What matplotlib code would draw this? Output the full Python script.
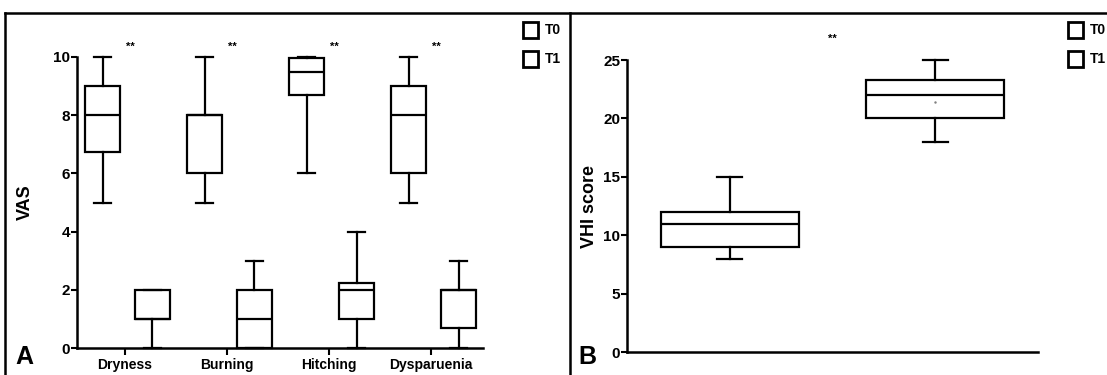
import matplotlib.pyplot as plt
from matplotlib.patches import Rectangle
from matplotlib.lines import Line2D

plt.rcParams['font.family'] = ['Liberation Sans', 'DejaVu Sans']
plt.rcParams['font.weight'] = 'bold'

W, H = 1107, 375

# panel A: VAS per symptom, T0 and T1
symptoms = ["Dryness", "Burning", "Hitching", "Dysparuenia"]
vas_t0_low = [5, 5, 6, 5]
vas_t0_q1 = [6.75, 6, 8.7, 6]
vas_t0_med = [8, 8, 9.5, 8]
vas_t0_q3 = [9, 8, 9.95, 9]
vas_t0_high = [10, 10, 10, 10]
vas_t1_low = [0, 0, 0, 0]
vas_t1_q1 = [1, 0, 1, 0.7]
vas_t1_med = [1, 1, 2, 2]
vas_t1_q3 = [2, 2, 2.25, 2]
vas_t1_high = [2, 3, 4, 3]

# panel B: VHI score
vhi_groups = ["T0", "T1"]
vhi_low = [8, 18]
vhi_q1 = [9, 20]
vhi_med = [11, 22]
vhi_q3 = [12, 23.3]
vhi_high = [15, 25]
vhi_mean = [None, 21.4]


def px_axes(fig, left, top, right, bottom):
    return fig.add_axes([left / W, 1 - bottom / H, (right - left) / W, (bottom - top) / H])


def stats(lo, q1, med, q3, hi):
    return [dict(whislo=a, q1=b, med=c, q3=d, whishi=e, fliers=[])
            for a, b, c, d, e in zip(lo, q1, med, q3, hi)]


def style_axes(ax):
    for s in ["top", "right"]:
        ax.spines[s].set_visible(False)
    for s in ["left", "bottom"]:
        ax.spines[s].set_linewidth(1.8)
    ax.tick_params(axis="y", direction="out", length=4, width=1.5, pad=1, labelsize=11)
    ax.tick_params(axis="x", direction="out", length=5, width=1.5, pad=2, labelsize=10)


lw = 1.6
box_kw = dict(showfliers=False, patch_artist=True,
              boxprops=dict(facecolor="white", edgecolor="black", linewidth=lw),
              medianprops=dict(color="black", linewidth=lw),
              whiskerprops=dict(color="black", linewidth=lw),
              capprops=dict(color="black", linewidth=lw))

fig = plt.figure(figsize=(W / 100, H / 100), dpi=100)

# ---- panel A
axA = px_axes(fig, 77, 57, 483, 348)
pos = list(range(len(symptoms)))
axA.bxp(stats(vas_t0_low, vas_t0_q1, vas_t0_med, vas_t0_q3, vas_t0_high),
        positions=[p - 0.22 for p in pos], widths=0.35, capwidths=0.17, **box_kw)
axA.bxp(stats(vas_t1_low, vas_t1_q1, vas_t1_med, vas_t1_q3, vas_t1_high),
        positions=[p + 0.27 for p in pos], widths=0.35, capwidths=0.17, **box_kw)
for art in axA.get_children():
    art.set_clip_on(False)
axA.set_xlim(-0.47, 3.51)
axA.set_ylim(0, 10)
axA.set_yticks([0, 2, 4, 6, 8, 10])
axA.set_xticks(pos)
axA.set_xticklabels(symptoms)
axA.set_ylabel("VAS", fontsize=13, fontweight="bold", labelpad=14)
for p in pos:
    axA.text(p + 0.05, 10.35, "**", ha="center", va="center", fontsize=8)
style_axes(axA)

# ---- panel B
axB = px_axes(fig, 627, 60, 1038, 352)
axB.bxp(stats(vhi_low, vhi_q1, vhi_med, vhi_q3, vhi_high),
        positions=[1, 2], widths=0.67, capwidths=0.12, **box_kw)
for art in axB.get_children():
    art.set_clip_on(False)
for i, m in enumerate(vhi_mean):
    if m is not None:
        axB.plot(i + 1, m, marker=".", color="gray", markersize=1.5)
axB.set_xlim(0.5, 2.5)
axB.set_ylim(0, 25)
axB.set_yticks([0, 5, 10, 15, 20, 25])
axB.set_xticks([])
axB.set_ylabel("VHI score", fontsize=13, fontweight="bold", labelpad=4)
axB.text(1.5, 26.8, "**", ha="center", va="center", fontsize=8)
style_axes(axB)

# panel frames
for xs, ys in [([5 / W, 5 / W], [0, 1 - 13 / H]),
               ([570 / W, 570 / W], [0, 1 - 13 / H]),
               ([5 / W, 1], [1 - 13 / H, 1 - 13 / H])]:
    fig.add_artist(Line2D(xs, ys, color="black", linewidth=1.8))

fig.text(24 / W, 1 - 357 / H, "A", fontsize=18, ha="center", va="center")
fig.text(587 / W, 1 - 357 / H, "B", fontsize=18, ha="center", va="center")

# legends
def legend_at(x_sq, labels):
    for k, lab in enumerate(labels):
        yc = 30 + 29 * k
        fig.add_artist(Rectangle((x_sq / W, 1 - (yc + 7.5) / H), 15 / W, 15 / H,
                                 transform=fig.transFigure, facecolor="white",
                                 edgecolor="black", linewidth=2))
        fig.text((x_sq + 22) / W, 1 - yc / H, lab, fontsize=10, va="center", ha="left")


legend_at(523, vhi_groups)
legend_at(1068, vhi_groups)

fig.savefig("out.png", dpi=100)
